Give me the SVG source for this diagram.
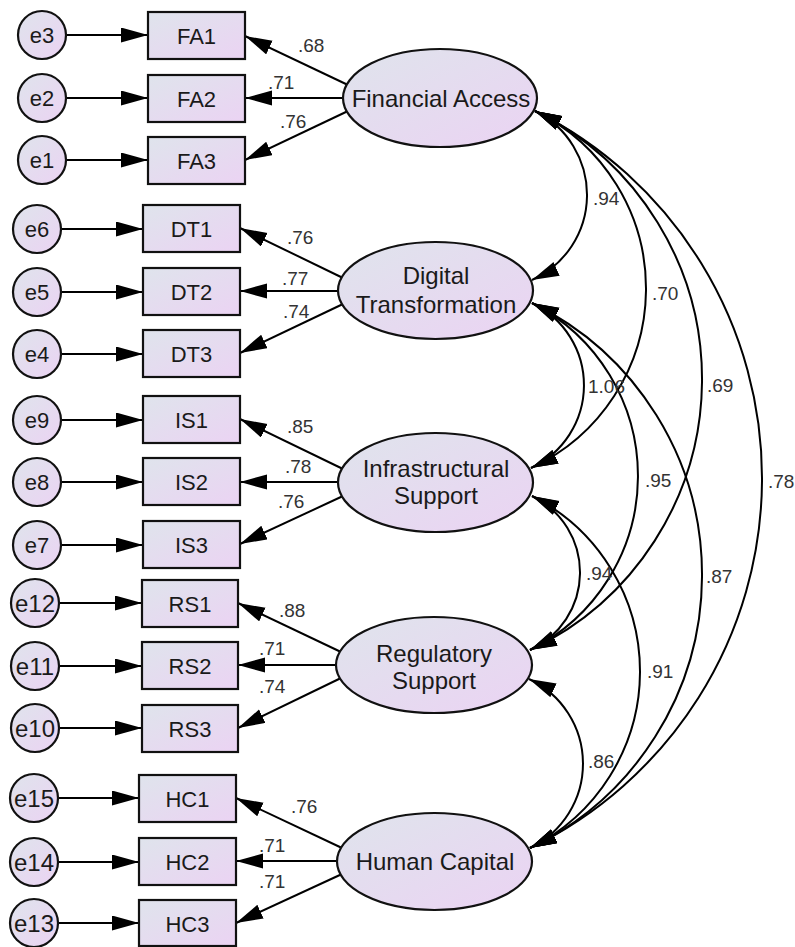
<svg xmlns="http://www.w3.org/2000/svg" width="795" height="947" viewBox="0 0 795 947">
<defs>
<linearGradient id="g" x1="0" y1="0" x2="1" y2="1">
<stop offset="0" stop-color="#dfe4ec"/>
<stop offset="1" stop-color="#ebd3f3"/>
</linearGradient>
<marker id="ah" markerUnits="userSpaceOnUse" markerWidth="30" markerHeight="16" refX="27" refY="7.5" orient="auto-start-reverse">
<path d="M0,0 L27,7.5 L0,15 z" fill="#000"/>
</marker>
</defs>
<style>
.nd{fill:url(#g);stroke:#111;stroke-width:2.2}
.t{font-family:"Liberation Sans",Arial,sans-serif;fill:#1a1a1a;text-anchor:middle}
.bt{font-size:22px}
.et{font-size:22px}
.et2{font-size:24px}
.lt{font-size:24px}
.c{fill:none;stroke:#000;stroke-width:2}
.a{marker-end:url(#ah)}
.cv{marker-start:url(#ah);marker-end:url(#ah)}
.lb{font-family:"Liberation Sans",Arial,sans-serif;font-size:19px;fill:#333}
</style>
<rect width="795" height="947" fill="#fff"/>
<g id="connectors">
<line class="c a" x1="66" y1="35" x2="148" y2="35"/>
<line class="c a" x1="66" y1="98" x2="148" y2="98"/>
<line class="c a" x1="66" y1="160" x2="148" y2="160"/>
<line class="c a" x1="61" y1="229" x2="143" y2="229"/>
<line class="c a" x1="61" y1="292" x2="143" y2="292"/>
<line class="c a" x1="61" y1="354" x2="143" y2="354"/>
<line class="c a" x1="61" y1="420" x2="143" y2="420"/>
<line class="c a" x1="61" y1="482" x2="143" y2="482"/>
<line class="c a" x1="61" y1="545" x2="143" y2="545"/>
<line class="c a" x1="59" y1="603" x2="142" y2="603"/>
<line class="c a" x1="59" y1="666" x2="142" y2="666"/>
<line class="c a" x1="59" y1="728" x2="142" y2="728"/>
<line class="c a" x1="58" y1="798" x2="139" y2="798"/>
<line class="c a" x1="58" y1="862" x2="139" y2="862"/>
<line class="c a" x1="58" y1="923" x2="139" y2="923"/>
<line class="c a" x1="348" y1="85" x2="245" y2="36"/>
<line class="c a" x1="346" y1="98" x2="245" y2="98"/>
<line class="c a" x1="348" y1="111" x2="245" y2="160"/>
<line class="c a" x1="343" y1="278" x2="240" y2="228"/>
<line class="c a" x1="341" y1="291" x2="240" y2="291"/>
<line class="c a" x1="343" y1="304" x2="240" y2="353"/>
<line class="c a" x1="343" y1="469" x2="240" y2="419"/>
<line class="c a" x1="341" y1="482" x2="240" y2="482"/>
<line class="c a" x1="343" y1="496" x2="240" y2="544"/>
<line class="c a" x1="341" y1="652" x2="238" y2="603"/>
<line class="c a" x1="339" y1="665" x2="238" y2="665"/>
<line class="c a" x1="341" y1="678" x2="238" y2="728"/>
<line class="c a" x1="342" y1="848" x2="236" y2="798"/>
<line class="c a" x1="340" y1="861" x2="236" y2="861"/>
<line class="c a" x1="342" y1="874" x2="236" y2="923"/>
<path class="c cv" d="M535,111 A93.5,93.5 0 0 1 532,280"/>
<path class="c cv" d="M535,111 A197.5,197.5 0 0 1 531,468"/>
<path class="c cv" d="M535,111 A299,299 0 0 1 530,650"/>
<path class="c cv" d="M535,111 A410.6,410.6 0 0 1 530,848"/>
<path class="c cv" d="M532,303 A91.1,91.1 0 0 1 531,468"/>
<path class="c cv" d="M532,303 A194.2,194.2 0 0 1 530,650"/>
<path class="c cv" d="M532,303 A302.6,302.6 0 0 1 530,848"/>
<path class="c cv" d="M532,496 A85,85 0 0 1 530,650"/>
<path class="c cv" d="M532,496 A196.6,196.6 0 0 1 530,848"/>
<path class="c cv" d="M529,679 A93.5,93.5 0 0 1 530,848"/>
</g>
<g id="labels">
<text class="lb" x="298" y="52">.68</text>
<text class="lb" x="268" y="89">.71</text>
<text class="lb" x="280" y="128">.76</text>
<text class="lb" x="287" y="244">.76</text>
<text class="lb" x="282" y="285">.77</text>
<text class="lb" x="283" y="318">.74</text>
<text class="lb" x="287" y="433">.85</text>
<text class="lb" x="285" y="473">.78</text>
<text class="lb" x="278" y="508">.76</text>
<text class="lb" x="279" y="617">.88</text>
<text class="lb" x="259" y="655">.71</text>
<text class="lb" x="259" y="693">.74</text>
<text class="lb" x="291" y="813">.76</text>
<text class="lb" x="259" y="852">.71</text>
<text class="lb" x="259" y="888">.71</text>
<text class="lb" x="593" y="205">.94</text>
<text class="lb" x="652" y="300">.70</text>
<text class="lb" x="588" y="393">1.06</text>
<text class="lb" x="707" y="392">.69</text>
<text class="lb" x="645" y="487">.95</text>
<text class="lb" x="768" y="488">.78</text>
<text class="lb" x="586" y="580">.94</text>
<text class="lb" x="706" y="583">.87</text>
<text class="lb" x="647" y="678">.91</text>
<text class="lb" x="588" y="768">.86</text>
</g>
<g id="e3"><circle class="nd" cx="42" cy="35" r="24"/><text class="t et" x="42" y="43">e3</text></g>
<g id="e2"><circle class="nd" cx="42" cy="98" r="24"/><text class="t et" x="42" y="106">e2</text></g>
<g id="e1"><circle class="nd" cx="42" cy="160" r="24"/><text class="t et" x="42" y="168">e1</text></g>
<g id="e6"><circle class="nd" cx="37" cy="229" r="24"/><text class="t et" x="37" y="237">e6</text></g>
<g id="e5"><circle class="nd" cx="37" cy="292" r="24"/><text class="t et" x="37" y="300">e5</text></g>
<g id="e4"><circle class="nd" cx="37" cy="354" r="24"/><text class="t et" x="37" y="362">e4</text></g>
<g id="e9"><circle class="nd" cx="37" cy="420" r="24"/><text class="t et" x="37" y="428">e9</text></g>
<g id="e8"><circle class="nd" cx="37" cy="482" r="24"/><text class="t et" x="37" y="490">e8</text></g>
<g id="e7"><circle class="nd" cx="37" cy="545" r="24"/><text class="t et" x="37" y="553">e7</text></g>
<g id="e12"><circle class="nd" cx="35" cy="603" r="24"/><text class="t et2" x="35" y="612">e12</text></g>
<g id="e11"><circle class="nd" cx="35" cy="666" r="24"/><text class="t et2" x="35" y="675">e11</text></g>
<g id="e10"><circle class="nd" cx="35" cy="728" r="24"/><text class="t et2" x="35" y="737">e10</text></g>
<g id="e15"><circle class="nd" cx="34" cy="798" r="24"/><text class="t et2" x="34" y="807">e15</text></g>
<g id="e14"><circle class="nd" cx="34" cy="862" r="24"/><text class="t et2" x="34" y="871">e14</text></g>
<g id="e13"><circle class="nd" cx="34" cy="923" r="24"/><text class="t et2" x="34" y="932">e13</text></g>
<g id="FA1"><rect class="nd" x="148" y="12" width="97" height="47"/><text class="t bt" x="196.5" y="44">FA1</text></g>
<g id="FA2"><rect class="nd" x="148" y="75" width="97" height="47"/><text class="t bt" x="196.5" y="107">FA2</text></g>
<g id="FA3"><rect class="nd" x="148" y="137" width="97" height="47"/><text class="t bt" x="196.5" y="169">FA3</text></g>
<g id="DT1"><rect class="nd" x="143" y="205" width="97" height="47"/><text class="t bt" x="191.5" y="237">DT1</text></g>
<g id="DT2"><rect class="nd" x="143" y="268" width="97" height="47"/><text class="t bt" x="191.5" y="300">DT2</text></g>
<g id="DT3"><rect class="nd" x="143" y="330" width="97" height="47"/><text class="t bt" x="191.5" y="362">DT3</text></g>
<g id="IS1"><rect class="nd" x="143" y="396" width="97" height="47"/><text class="t bt" x="191.5" y="428">IS1</text></g>
<g id="IS2"><rect class="nd" x="143" y="458" width="97" height="47"/><text class="t bt" x="191.5" y="490">IS2</text></g>
<g id="IS3"><rect class="nd" x="143" y="521" width="97" height="47"/><text class="t bt" x="191.5" y="553">IS3</text></g>
<g id="RS1"><rect class="nd" x="142" y="580" width="96" height="47"/><text class="t bt" x="190" y="612">RS1</text></g>
<g id="RS2"><rect class="nd" x="142" y="642" width="96" height="47"/><text class="t bt" x="190" y="674">RS2</text></g>
<g id="RS3"><rect class="nd" x="142" y="705" width="96" height="47"/><text class="t bt" x="190" y="737">RS3</text></g>
<g id="HC1"><rect class="nd" x="139" y="775" width="97" height="47"/><text class="t bt" x="187.5" y="807">HC1</text></g>
<g id="HC2"><rect class="nd" x="139" y="838" width="97" height="47"/><text class="t bt" x="187.5" y="870">HC2</text></g>
<g id="HC3"><rect class="nd" x="139" y="900" width="97" height="46"/><text class="t bt" x="187.5" y="932">HC3</text></g>
<g id="FA"><ellipse class="nd" cx="440" cy="98" rx="97" ry="49"/><text class="t lt" x="441" y="107">Financial Access</text></g>
<g id="DT"><ellipse class="nd" cx="435.5" cy="290.5" rx="97.5" ry="48.5"/><text class="t lt" x="436" y="284">Digital</text><text class="t lt" x="436" y="313">Transformation</text></g>
<g id="IS"><ellipse class="nd" cx="435.5" cy="482.5" rx="97.5" ry="49.5"/><text class="t lt" x="436" y="477">Infrastructural</text><text class="t lt" x="436" y="504">Support</text></g>
<g id="RS"><ellipse class="nd" cx="434" cy="665" rx="98" ry="48"/><text class="t lt" x="434" y="662">Regulatory</text><text class="t lt" x="434" y="689">Support</text></g>
<g id="HC"><ellipse class="nd" cx="434.5" cy="861.5" rx="97.5" ry="48.5"/><text class="t lt" x="435" y="870">Human Capital</text></g>
</svg>
